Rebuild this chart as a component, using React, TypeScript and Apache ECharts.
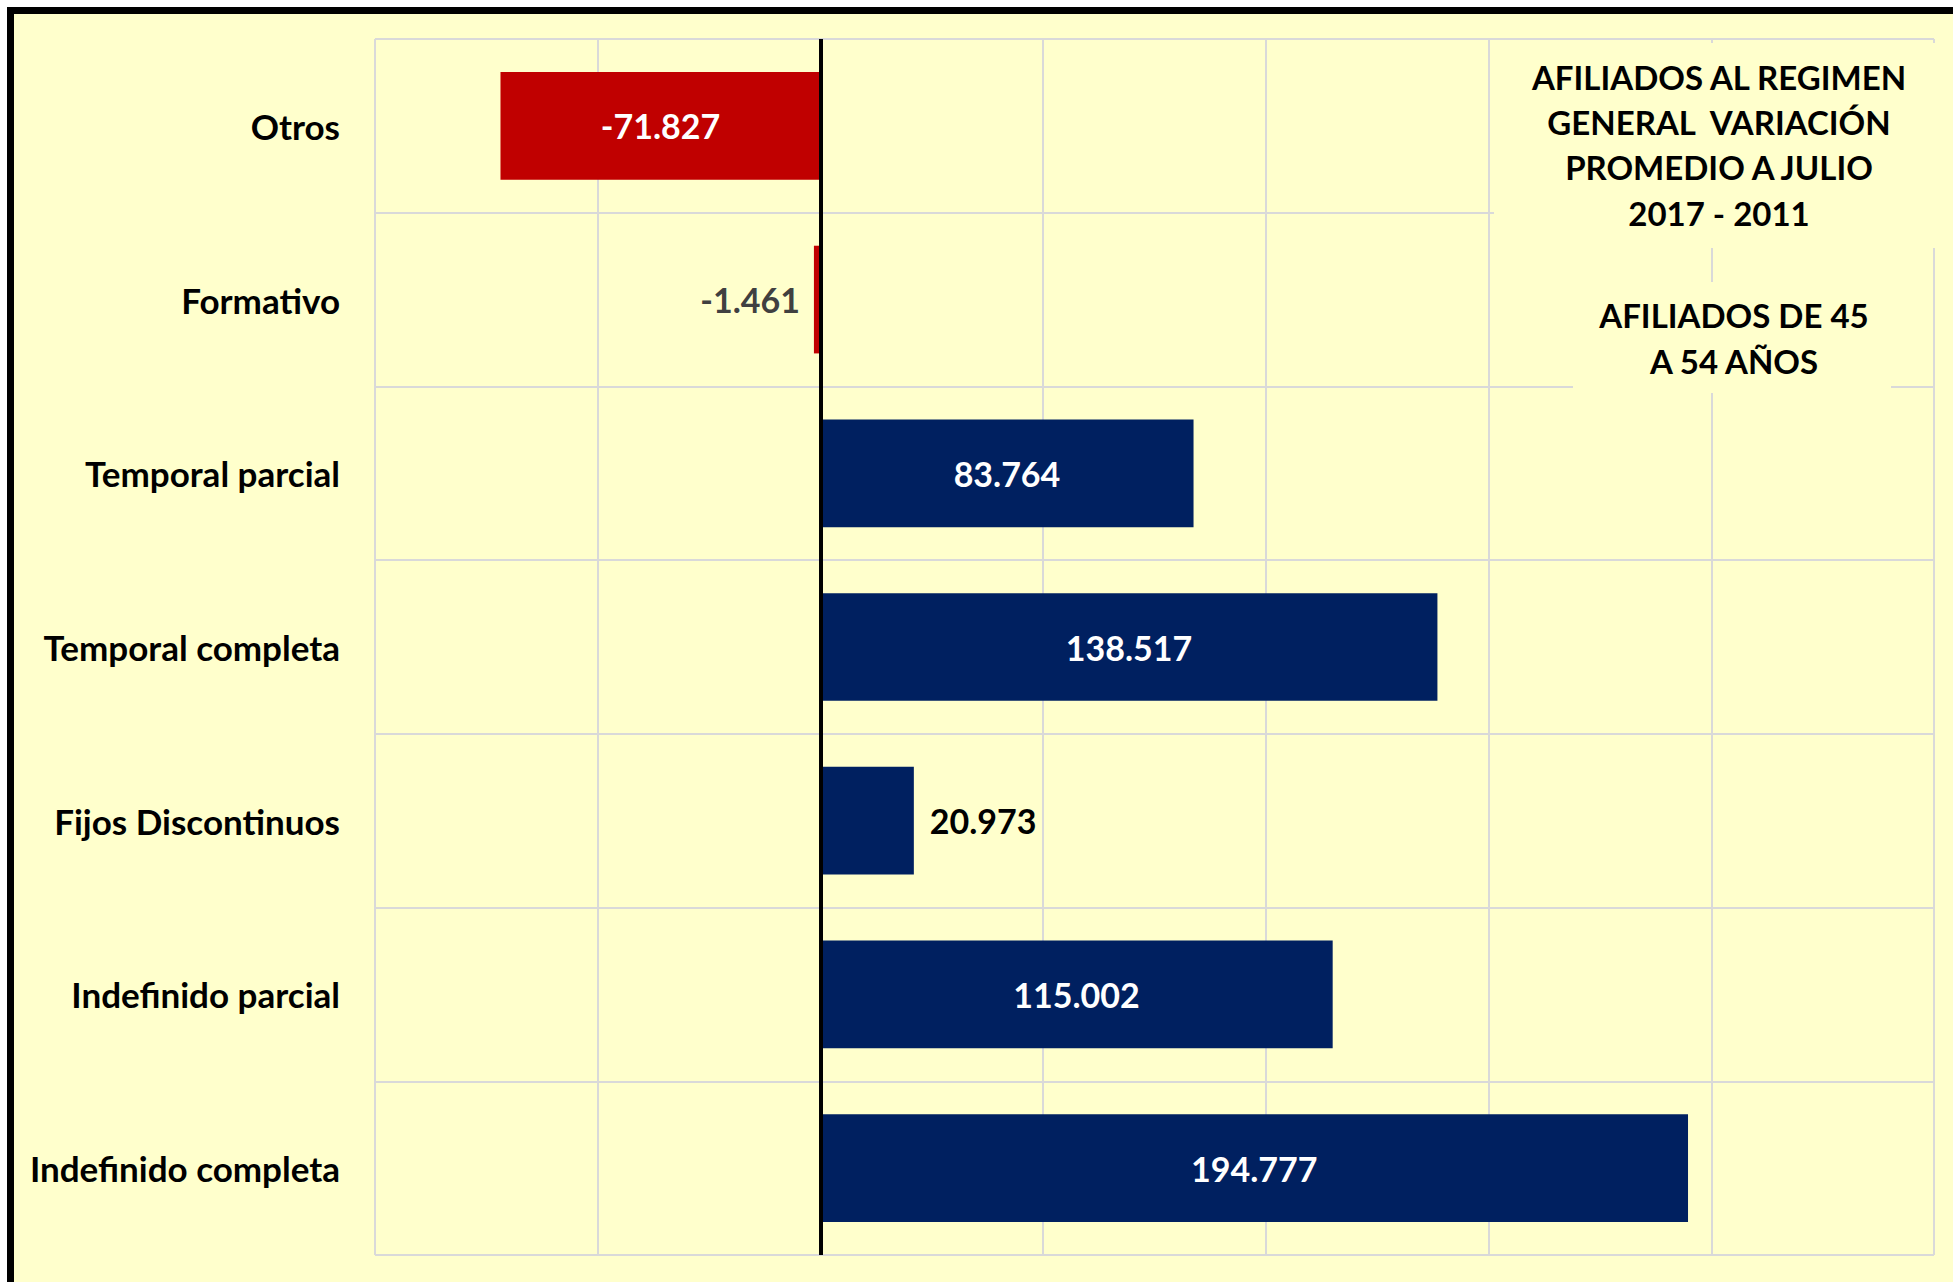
import React, { useEffect, useRef } from "react";
import * as echarts from "echarts";

// Data (bottom to top, as ECharts category axis draws them)
const categories = [
  "Indefinido completa",
  "Indefinido parcial",
  "Fijos Discontinuos",
  "Temporal completa",
  "Temporal parcial",
  "Formativo",
  "Otros",
];
const values = [194777, 115002, 20973, 138517, 83764, -1461, -71827];
const titleLines = ["AFILIADOS AL REGIMEN", "GENERAL  VARIACIÓN", "PROMEDIO A JULIO", "2017 - 2011"];
const subtitleLines = ["AFILIADOS DE 45", "A 54 AÑOS"];
const axisMin = -100000;
const axisMax = 250000;
const axisInterval = 50000;

const FONT = "Lato, 'Open Sans', sans-serif";

function fmt(v: number): string {
  const s = Math.abs(v).toString().replace(/\B(?=(\d{3})+(?!\d))/g, ".");
  return (v < 0 ? "-" : "") + s;
}

export default function App() {
  const ref = useRef<HTMLDivElement>(null);
  useEffect(() => {
    if (!ref.current) return;
    const chart = echarts.init(ref.current, undefined, { renderer: "svg" });
    const data = values.map((v) => {
      const small = Math.abs(v) < 40000;
      const neg = v < 0;
      return {
        value: v,
        itemStyle: { color: neg ? "#C00000" : "#002060" },
        label: {
          show: true,
          position: small ? (neg ? "left" : "right") : "inside",
          distance: small && neg ? 14 : 16,
          color: small ? (neg ? "#404040" : "#000000") : "#FFFFFF",
          fontSize: 34,
          fontWeight: "bold",
          fontFamily: FONT,
          formatter: () => fmt(v),
        },
      };
    });
    const graphics: any[] = [
      {
        type: "rect",
        z: -100,
        silent: true,
        shape: { x: 10.5, y: 10.5, width: 4000, height: 4000 },
        style: { fill: "#FFFFCC", stroke: "#000000", lineWidth: 7 },
      },
      {
        type: "rect",
        z: 50,
        silent: true,
        shape: { x: 1494, y: 43, width: 470, height: 205 },
        style: { fill: "#FFFFCC" },
      },
      {
        type: "rect",
        z: 50,
        silent: true,
        shape: { x: 1573, y: 282, width: 318, height: 111 },
        style: { fill: "#FFFFCC" },
      },
    ];
    const t1y = [77, 122, 167, 213];
    titleLines.forEach((t, i) => {
      graphics.push({
        type: "text",
        z: 51,
        silent: true,
        x: 1719,
        y: t1y[i],
        style: {
          text: t,
          fill: "#000000",
          fontSize: 33,
          fontWeight: "bold",
          fontFamily: FONT,
          textAlign: "center",
          textVerticalAlign: "middle",
        },
      });
    });
    const t2y = [315, 361];
    subtitleLines.forEach((t, i) => {
      graphics.push({
        type: "text",
        z: 51,
        silent: true,
        x: 1734,
        y: t2y[i],
        style: {
          text: t,
          fill: "#000000",
          fontSize: 33,
          fontWeight: "bold",
          fontFamily: FONT,
          textAlign: "center",
          textVerticalAlign: "middle",
        },
      });
    });
    chart.setOption({
      animation: false,
      backgroundColor: "#FFFFFF",
      grid: { left: 375, top: 39, right: 19, bottom: 27, containLabel: false },
      xAxis: {
        type: "value",
        min: axisMin,
        max: axisMax,
        interval: axisInterval,
        axisLabel: { show: false },
        axisLine: { show: false },
        axisTick: { show: false },
        splitLine: { show: true, lineStyle: { color: "#D9D9D9", width: 2 } },
      },
      yAxis: {
        type: "category",
        data: categories,
        axisLine: { show: false, onZero: false },
        axisTick: { show: false },
        splitLine: { show: true, interval: 0, lineStyle: { color: "#D9D9D9", width: 2 } },
        axisLabel: {
          interval: 0,
          margin: 35,
          color: "#000000",
          fontSize: 35,
          fontWeight: "bold",
          fontFamily: FONT,
        },
      },
      series: [
        {
          type: "bar",
          data,
          barCategoryGap: "38%",
          markLine: {
            silent: true,
            symbol: ["none", "none"],
            label: { show: false },
            lineStyle: { color: "#000000", width: 4, type: "solid" },
            data: [{ xAxis: 0 }],
          },
        },
      ],
      graphic: graphics,
    });
    return () => chart.dispose();
  }, []);
  return (
    <div
      ref={ref}
      style={{ position: "fixed", left: 0, top: 0, width: 1953, height: 1282 }}
    />
  );
}
